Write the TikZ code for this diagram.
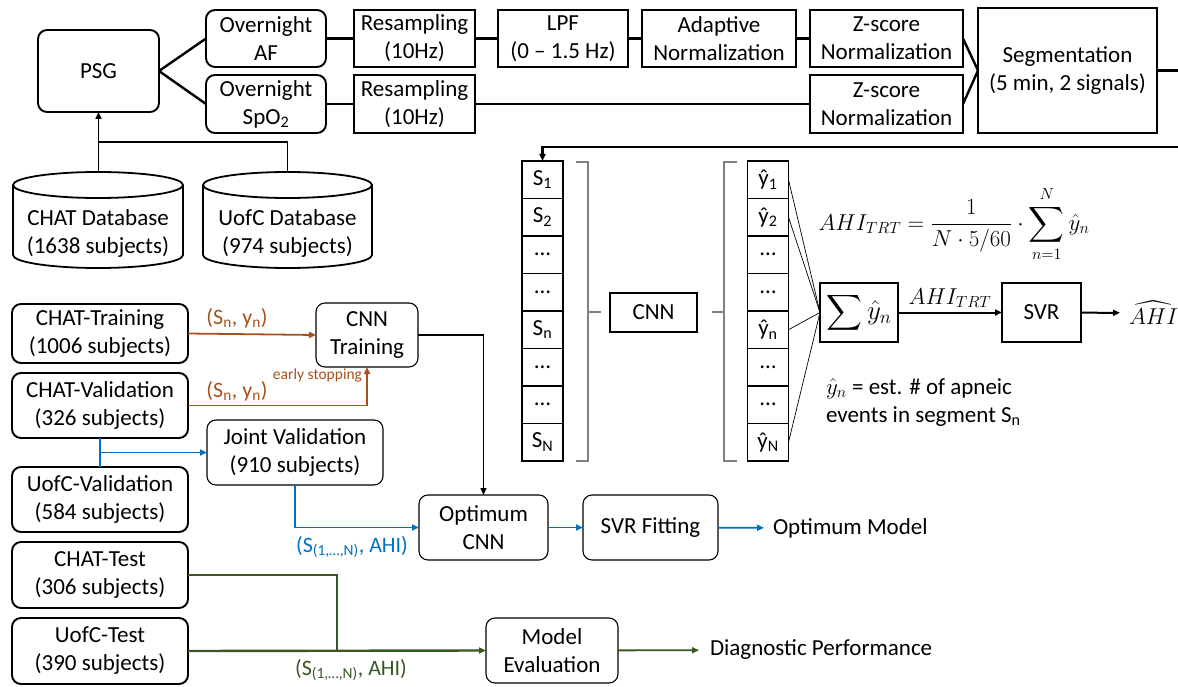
\RequirePackage{fix-cm}
\documentclass[tikz,border=0pt]{standalone}
\usepackage{exscale}
\usepackage{fontspec}
\setmainfont{Carlito}
\usetikzlibrary{arrows.meta}
\definecolor{brn}{RGB}{165,82,30}
\definecolor{blu}{RGB}{0,112,192}
\definecolor{grn}{RGB}{56,87,35}
\begin{document}
\begin{tikzpicture}[x=1pt,y=-1pt,
  every node/.style={inner sep=0pt, outer sep=0pt, align=center, font=\fontsize{23}{28}\selectfont},
  sq/.style={draw, line width=1.7pt},
  rd/.style={draw, line width=1.9pt, rounded corners=9pt},
  rdt/.style={draw, line width=1.1pt, rounded corners=9pt},
  cell/.style={draw, line width=1.6pt, minimum width=41pt, minimum height=37.5pt},
  chain/.style={line width=2.4pt},
  arr/.style={-{Triangle[length=7pt,width=6pt]}},
  brk/.style={draw=gray, line width=1.3pt},
  fan/.style={line width=0.7pt},
  lbl/.style={font=\fontsize{22}{26}\selectfont},
]
\useasboundingbox[fill=white] (0,0) rectangle (1178,687);

% ---------- top chain ----------
\node[rd, minimum width=121pt, minimum height=82pt] (psg) at (98.5,71) {PSG};
\node[rd, minimum width=120pt, minimum height=57pt] (af) at (266,38.5) {Overnight\\AF};
\node[rd, minimum width=120pt, minimum height=58pt] (spo) at (266,104) {Overnight\\SpO\textsubscript{2}};
\node[sq, minimum width=121pt, minimum height=57pt] (rs1) at (414.5,38.5) {Resampling\\(10Hz)};
\node[sq, minimum width=121pt, minimum height=58pt] (rs2) at (414.5,104) {Resampling\\(10Hz)};
\node[sq, minimum width=130pt, minimum height=57pt] (lpf) at (563,38.5) {LPF\\(0 – 1.5 Hz)};
\node[sq, minimum width=154pt, minimum height=57pt] (adn) at (719,38.5) {Adaptive\\Normalization};
\node[sq, minimum width=153pt, minimum height=57pt] (z1) at (886.5,38.5) {Z-score\\Normalization};
\node[sq, minimum width=153pt, minimum height=58pt] (z2) at (886.5,104) {Z-score\\Normalization};
\node[sq, minimum width=179pt, minimum height=125pt] (seg) at (1067.5,70.5) {Segmentation\\(5 min, 2 signals)};

\draw[chain] (psg.east) -- (af.west);
\draw[chain] (psg.east) -- (spo.west);
\draw[chain] (af) -- (rs1);
\draw[chain] (rs1) -- (lpf);
\draw[chain] (lpf) -- (adn);
\draw[chain] (adn) -- (z1);
\draw[chain] (spo) -- (rs2);
\draw[chain] (rs2) -- (z2);
\draw[chain] (z1.east) -- (seg.west);
\draw[chain] (z2.east) -- (seg.west);
\coordinate (segout) at (1178,70.5);
\draw[chain] (seg.east) -- (segout);

% ---------- databases ----------
\draw[line width=1.8pt, fill=white] (13,185) -- (13,255) arc[start angle=180, end angle=360, x radius=85pt, y radius=13pt] -- (183,185);
\draw[line width=1.8pt] (98,185) ellipse [x radius=85pt, y radius=13pt];
\draw[line width=1.8pt, fill=white] (203,185) -- (203,255) arc[start angle=180, end angle=360, x radius=84.5pt, y radius=13pt] -- (372,185);
\draw[line width=1.8pt] (287.5,185) ellipse [x radius=84.5pt, y radius=13pt];
\node (chat) at (98,233) {CHAT Database\\(1638 subjects)};
\node (uofc) at (287.5,233) {UofC Database\\(974 subjects)};
\coordinate (chattop) at (98.5,172);
\coordinate (uoftop) at (287.5,172);
\coordinate (dbj) at (98.5,142);
\draw[line width=1.6pt, arr] (chattop) -- (psg.south);
\draw[line width=1.6pt] (uoftop) |- (dbj);

% ---------- segment column ----------
\node[cell] (s1) at (542.5,179.75) {S\textsubscript{1}};
\node[cell] (s2) at (542.5,217.25) {S\textsubscript{2}};
\node[cell] (s3) at (542.5,254.75) {…};
\node[cell] (s4) at (542.5,292.25) {…};
\node[cell] (s5) at (542.5,329.75) {S\textsubscript{n}};
\node[cell] (s6) at (542.5,367.25) {…};
\node[cell] (s7) at (542.5,404.75) {…};
\node[cell] (s8) at (542.5,442.25) {S\textsubscript{N}};
\coordinate (ret) at (1178,147);
\draw[chain, arr] (ret) -| (s1.north);

\draw[brk] (576,162) -- (588,162) -- (588,461) -- (576,461);
\draw[brk] (588,312) -- (601,312);
\node[sq, minimum width=87pt, minimum height=39pt] (cnn) at (653.5,312.5) {CNN};
\draw[brk] (712,312) -- (724,312);
\draw[brk] (737,162) -- (724,162) -- (724,461) -- (737,461);

\node[cell] (y1) at (768,179.75) {ŷ\textsubscript{1}};
\node[cell] (y2) at (768,217.25) {ŷ\textsubscript{2}};
\node[cell] (y3) at (768,254.75) {…};
\node[cell] (y4) at (768,292.25) {…};
\node[cell] (y5) at (768,329.75) {ŷ\textsubscript{n}};
\node[cell] (y6) at (768,367.25) {…};
\node[cell] (y7) at (768,404.75) {…};
\node[cell] (y8) at (768,442.25) {ŷ\textsubscript{N}};

\node[sq, minimum width=78pt, minimum height=59pt, font=\fontsize{27}{30}\selectfont] (sum) at (859,312.5) {$\displaystyle\sum\hat{y}_n$};
\node[sq, minimum width=79pt, minimum height=59pt] (svr) at (1041.5,312.5) {SVR};
\node[anchor=west] (ahihat) at (1129,313) {$\widehat{AHI}$};
\draw[fan] (y1.east) -- (sum.west);
\draw[fan] (y2.east) -- (sum.west);
\draw[fan] (y5.east) -- (sum.west);
\draw[fan] (y8.east) -- (sum.west);
\draw[line width=2pt, arr] (sum) -- node[above=5pt] {$AHI_{TRT}$} (svr);
\draw[line width=2pt, arr, shorten >=9pt] (svr) -- (ahihat);
\node (formula) at (954,224) {$\displaystyle AHI_{TRT}=\frac{1}{N\cdot 5/60}\cdot\sum_{n=1}^{N}\hat{y}_n$};
\node[anchor=west, align=left] (note) at (826,402) {$\hat{y}_n$ = est. \# of apneic\\events in segment S\textsubscript{n}};

% ---------- training / validation ----------
\node[rd, minimum width=176pt, minimum height=59pt] (chattr) at (100,333.5) {CHAT-Training\\(1006 subjects)};
\node[rd, minimum width=176pt, minimum height=65pt] (chatval) at (100,405.5) {CHAT-Validation\\(326 subjects)};
\node[rd, minimum width=176pt, minimum height=65pt] (ucval) at (100,499.5) {UofC-Validation\\(584 subjects)};
\node[rd, minimum width=176pt, minimum height=66pt] (chattest) at (100,575) {CHAT-Test\\(306 subjects)};
\node[rd, minimum width=176pt, minimum height=66pt] (uctest) at (100,651) {UofC-Test\\(390 subjects)};

\node[rdt, minimum width=102pt, minimum height=64pt] (cnntr) at (367,335) {CNN\\Training};
\node[rdt, minimum width=176pt, minimum height=65pt] (joint) at (295,452.5) {Joint Validation\\(910 subjects)};
\node[rdt, minimum width=129pt, minimum height=65pt] (optcnn) at (483.5,527.5) {Optimum\\CNN};
\node[rdt, minimum width=135pt, minimum height=65pt] (svrfit) at (650.5,527.5) {SVR Fitting};
\node[rdt, minimum width=132pt, minimum height=65pt] (meval) at (552,650.5) {Model\\Evaluation};
\node[anchor=west] (optmodel) at (773,528) {Optimum Model};
\node[anchor=west] (diag) at (710,650) {Diagnostic Performance};

% brown
\draw[brn, line width=1.8pt, arr] (chattr.east) -- (cnntr.west);
\node[lbl, text=brn] (l1) at (237,318) {(S\textsubscript{n}, y\textsubscript{n})};
\draw[brn, line width=1.8pt, arr] (chatval.east) -| (cnntr.south);
\node[lbl, text=brn] (l2) at (237,391) {(S\textsubscript{n}, y\textsubscript{n})};
\node[anchor=east, text=brn, font=\fontsize{15.5}{18}\selectfont] (es) at (362,375) {early stopping};

% black
\draw[line width=1.4pt, arr] (cnntr.east) -| (optcnn.north);

% blue
\coordinate (bj) at (100,452.5);
\draw[blu, line width=1.8pt] (chatval.south) -- (ucval.north);
\draw[blu, line width=1.8pt, arr] (bj) -- (joint.west);
\draw[blu, line width=1.8pt, arr] (joint.south) |- (optcnn.west);
\node[lbl, text=blu] (l3) at (352,547) {(S\textsubscript{(1,…,N)}, AHI)};
\draw[blu, line width=1.8pt, arr] (optcnn) -- (svrfit);
\draw[blu, line width=1.8pt, arr, shorten >=9pt] (svrfit) -- (optmodel);

% green
\coordinate (gj) at (337,651);
\draw[grn, line width=1.6pt] (chattest.east) -| (gj);
\draw[grn, line width=2.4pt, arr] (uctest.east) -- (meval.west);
\node[lbl, text=grn] (l4) at (351,670) {(S\textsubscript{(1,…,N)}, AHI)};
\draw[grn, line width=1.8pt, arr, shorten >=11pt] (meval) -- (diag);
\end{tikzpicture}
\end{document}
